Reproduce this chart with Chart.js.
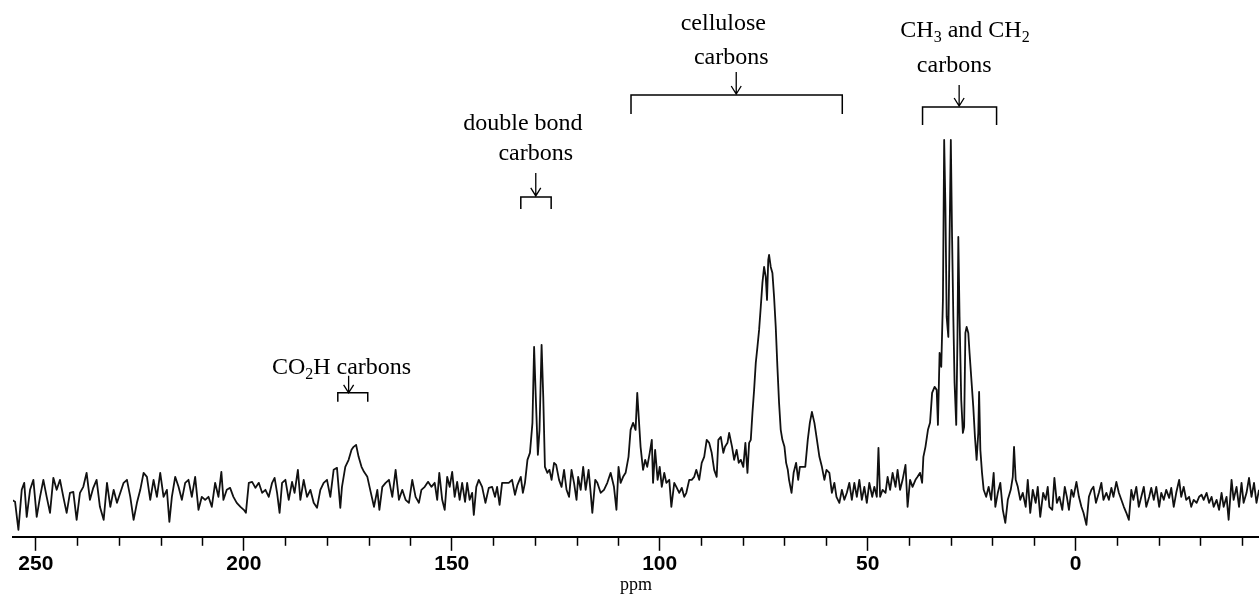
<!DOCTYPE html>
<html>
<head>
<meta charset="utf-8">
<script src="https://cdn.jsdelivr.net/npm/chart.js@4.4.1/dist/chart.umd.min.js"></script>
<style>
  html, body { margin: 0; padding: 0; background: #fff; }
</style>
</head>
<body>
<canvas id="nmr" width="1259" height="594"></canvas>
<script>
const shiftPpm = [
  255.8, 255.0, 254.2, 253.4, 252.8, 252.2, 251.4, 250.6, 249.8, 249.0, 248.2, 247.4, 246.6, 245.8, 245.0,
  244.2, 243.4, 242.6, 241.8, 241.0, 240.2, 239.4, 238.6, 237.8, 237.0, 236.2, 235.4, 234.6, 233.7, 232.9,
  232.1, 231.3, 230.5, 229.7, 228.9, 228.1, 227.3, 226.5, 225.7, 224.9, 224.1, 223.3, 222.5, 221.7, 220.9,
  220.1, 219.3, 218.5, 217.9, 217.3, 216.5, 215.7, 214.9, 214.1, 213.3, 212.5, 211.7, 210.9, 210.1, 209.3,
  208.5, 207.7, 206.9, 206.1, 205.4, 204.9, 204.1, 203.3, 202.5, 201.7, 200.8, 200.0, 199.5, 198.8, 198.0,
  197.2, 196.4, 195.6, 194.8, 194.0, 193.2, 192.6, 192.0, 191.4, 190.8, 190.0, 189.2, 188.4, 187.8, 187.0,
  186.4, 185.6, 184.8, 184.0, 183.2, 182.4, 181.6, 180.8, 180.0, 179.2, 178.4, 177.6, 176.8, 176.4, 175.6,
  174.8, 174.1, 173.6, 173.0, 172.4, 171.7, 171.1, 170.3, 169.5, 168.7, 167.9, 167.4, 166.7, 165.9, 165.1,
  164.3, 163.5, 162.7, 161.9, 161.1, 160.3, 159.5, 158.7,
  157.9, 157.3, 156.5, 155.7, 154.9, 154.1, 153.5, 153.0, 152.3, 151.7, 151.1, 150.5, 149.9, 149.3, 148.7,
  148.1, 147.5, 146.8, 146.3, 145.7, 145.1, 144.7, 144.1, 143.5, 142.7, 141.9, 141.1, 140.3, 139.6, 139.1,
  138.5, 137.9, 137.1, 136.3, 135.5, 134.8, 134.2, 133.4, 132.9, 132.4, 131.8, 131.2, 130.6, 130.2, 129.8,
  129.3, 128.9, 128.4, 128.0, 127.6, 127.0, 126.5, 126.0, 125.4, 124.9, 124.2, 123.6, 123.0, 122.4, 121.8,
  121.2, 120.6, 120.0, 119.6, 119.0, 118.4, 117.8, 117.1, 116.6, 116.2, 115.5, 115.0, 114.2, 113.4, 112.6,
  111.8, 111.0, 110.4, 109.9, 109.4, 108.8, 108.2, 107.5, 107.0, 106.4, 105.8, 105.4, 104.9,
  104.6, 104.0, 103.5, 103.0, 102.4, 101.9, 101.6, 101.1, 100.5, 100.0, 99.5, 98.9, 98.4, 97.7, 97.2,
  96.5, 96.0, 95.3, 94.7, 94.1, 93.6, 92.9, 92.3, 91.7, 91.2, 90.5, 89.9, 89.3, 88.7, 88.1,
  87.5, 86.9, 86.3, 85.9, 85.3, 84.7, 84.3, 83.7, 83.3, 82.6, 82.1, 81.5, 81.0, 80.5, 79.9,
  79.4, 78.9, 78.5, 78.1, 77.7, 77.3, 76.9, 76.5, 76.1, 75.7, 75.3, 74.9, 74.5, 74.2, 73.9,
  73.7, 73.3, 72.9, 72.5, 72.1, 71.7, 71.3, 70.9, 70.5, 70.0, 69.6, 69.2, 68.9, 68.3, 67.8,
  67.2, 66.7, 66.3, 65.6, 65.0, 64.4, 63.9, 63.4, 62.8, 62.3, 61.6, 61.0, 60.4, 59.9, 59.2,
  58.6, 58.0, 57.5, 56.8, 56.2, 55.6, 55.0,
  54.4, 53.8, 53.2, 52.6, 52.0, 51.4, 50.8, 50.2, 49.6, 48.9, 48.4, 47.8, 47.4, 47.0, 46.4,
  45.7, 45.2, 44.6, 44.0, 43.3, 42.8, 42.2, 41.6, 40.9, 40.4, 39.8, 39.2, 38.5, 38.0, 37.4,
  36.9, 36.6, 36.1, 35.5, 35.0, 34.5, 33.9, 33.4, 33.1, 32.7, 32.3, 31.9, 31.6, 31.3, 31.0,
  30.6, 30.3, 30.0, 29.7, 29.4, 29.1, 28.7, 28.4, 28.2, 27.9, 27.5, 27.1, 26.8, 26.5, 26.2,
  25.8, 25.5, 25.0, 24.6, 24.2, 23.8, 23.4, 23.2, 22.9, 22.5, 22.1, 21.5, 20.9, 20.3, 19.7,
  19.3, 18.7, 18.1, 17.5, 16.9, 16.3, 15.6, 15.1, 14.8, 14.4, 13.9, 13.3, 12.7, 12.0, 11.5,
  10.9, 10.3, 9.6, 9.1, 8.5, 7.8, 7.2, 6.7,
  6.3, 5.6, 5.1, 4.5, 3.9, 3.2, 2.6, 2.1, 1.6, 1.0, 0.5, -0.2, -0.8, -1.4, -1.9,
  -2.6, -3.2, -3.8, -4.3, -4.9, -5.6, -6.2, -6.7, -7.4, -8.0, -8.6, -9.1, -9.8, -10.4, -11.0,
  -11.6, -12.2, -12.8, -13.4, -13.9, -14.6, -15.2, -15.8, -16.4, -17.0, -17.7, -18.2, -18.8, -19.4, -20.1,
  -20.6, -21.2, -21.8, -22.5, -23.0, -23.6, -24.2, -24.9, -25.4, -26.0, -26.6, -27.3, -27.8, -28.4, -29.1,
  -29.7, -30.3, -30.8, -31.5, -32.1, -32.7, -33.2, -33.9, -34.5, -35.1, -35.6, -36.3, -36.8, -37.5, -38.0,
  -38.7, -39.3, -39.9, -40.4, -41.1, -41.7, -42.3, -42.9, -43.5, -44.1
];

// signal height (arbitrary units), same order as shiftPpm
const intensity = [
  37, 35, 7, 47, 54, 20, 47, 57, 20, 40, 57, 40, 24, 59, 47,
  57, 40, 24, 44, 45, 17, 44, 50, 64, 37, 49, 57, 30, 17, 54,
  30, 47, 34, 44, 54, 57, 40, 17, 34, 47, 64, 60, 37, 57, 40,
  64, 40, 47, 15, 40, 60, 50, 37, 54, 57, 40, 60, 27, 40, 37,
  40, 30, 54, 40, 65, 37, 47, 49, 40, 34, 30, 27, 24, 54, 55,
  49, 54, 44, 47, 40, 54, 59, 44, 24, 54, 57, 37, 55, 44, 67,
  37, 57, 40, 47, 34, 29, 47, 54, 57, 40, 67, 69, 29, 50, 70,
  77, 87, 90, 92, 80, 70, 65, 60, 45, 30, 47, 27, 50, 54, 57,
  40, 67, 37, 47, 37, 34, 57, 40,
  34, 47, 50, 55, 50, 54, 37, 64, 37, 27, 60, 50, 65, 40, 55,
  37, 54, 35, 54, 37, 44, 22, 50, 57, 50, 34, 49, 50, 40, 50,
  32, 54, 54, 54, 57, 42, 52, 60, 44, 54, 77, 84, 114, 190, 140,
  82, 107, 192, 140, 70, 64, 67, 57, 74, 72, 57, 50, 67, 47, 40,
  67, 54, 37, 60, 47, 70, 47, 67, 44, 24, 57, 54, 44, 47, 54,
  64, 50, 27, 70, 54, 60, 64, 80, 107, 114, 107, 144, 110,
  90, 67, 77, 70, 84, 97, 54, 87, 57, 70, 50, 64, 54, 57, 30,
  54, 50, 44, 49, 40, 44, 57, 57, 60, 67, 57, 74, 80, 97, 94,
  84, 67, 60, 97, 100, 84, 90, 94, 104, 90, 77, 87, 74, 77, 70,
  94, 64, 94, 97, 124, 147, 174, 190, 207, 230, 254, 270, 260, 237, 277,
  282, 270, 264, 240, 210, 170, 134, 107, 97, 90, 74, 67, 57, 44, 64,
  74, 57, 70, 70, 70, 97, 114, 125, 114, 100, 80, 70, 57, 67, 64,
  44, 54, 40, 34, 47, 37, 44,
  54, 37, 54, 40, 57, 37, 50, 34, 54, 40, 50, 40, 89, 40, 47,
  44, 60, 47, 64, 50, 67, 47, 57, 72, 30, 57, 50, 57, 60, 64,
  54, 80, 90, 107, 114, 144, 150, 147, 112, 184, 170, 237, 397, 330, 220,
  200, 300, 397, 300, 220, 154, 112, 200, 300, 220, 137, 104, 110, 204, 210,
  204, 184, 154, 130, 100, 77, 104, 145, 87, 64, 47, 40, 50, 37, 64,
  30, 44, 54, 27, 14, 37, 47, 60, 90, 57, 50, 37, 44, 30, 57,
  24, 47, 34, 50, 20, 44, 37, 50,
  30, 27, 59, 34, 40, 27, 50, 40, 27, 47, 40, 55, 40, 30, 24,
  12, 40, 47, 50, 34, 44, 54, 37, 44, 37, 49, 40, 55, 44, 37,
  30, 24, 17, 47, 37, 50, 30, 40, 50, 30, 40, 49, 37, 50, 30,
  44, 37, 47, 39, 49, 30, 44, 57, 40, 50, 37, 40, 30, 37, 34,
  40, 42, 37, 44, 34, 40, 30, 37, 27, 44, 30, 40, 17, 57, 37,
  50, 30, 54, 34, 44, 59, 40, 54, 34, 47
];

// axis ticks: minor every 10 ppm, numbers on these
const labelledTicks = [250, 200, 150, 100, 50, 0];

// peak group labels; parts with sub:true are subscripts
const notes = [
  {
    lines: [{ at: 176.5, base: 163, parts: [{ t: 'CO' }, { t: '2', sub: true }, { t: 'H carbons' }] }],
    arrowAt: 174.8, arrow: [161, 144], span: [177.4, 170.2], bracket: [144, 135]
  },
  {
    lines: [
      { at: 132.9, base: 407, parts: [{ t: 'double bond' }] },
      { at: 129.8, base: 377, parts: [{ t: 'carbons' }] }
    ],
    arrowAt: 129.8, arrow: [364, 341], span: [133.4, 126.1], bracket: [340, 328]
  },
  {
    lines: [
      { at: 84.7, base: 507, parts: [{ t: 'cellulose' }] },
      { at: 82.8, base: 473, parts: [{ t: 'carbons' }] }
    ],
    arrowAt: 81.6, arrow: [465, 443], span: [106.9, 56.1], bracket: [442, 423]
  },
  {
    lines: [
      { at: 26.6, base: 500, parts: [{ t: 'CH' }, { t: '3', sub: true }, { t: ' and CH' }, { t: '2', sub: true }] },
      { at: 29.2, base: 465, parts: [{ t: 'carbons' }] }
    ],
    arrowAt: 28.0, arrow: [452, 431], span: [36.8, 19.0], bracket: [430, 412]
  }
];

const points = shiftPpm.map((p, i) => ({ x: p, y: intensity[i] }));

const TEXT_FONT = '24px "Liberation Serif", "Times New Roman", serif';
const SUB_FONT = '16px "Liberation Serif", "Times New Roman", serif';

function drawRich(ctx, parts, cx, baseY) {
  let total = 0;
  parts.forEach(p => {
    ctx.font = p.sub ? SUB_FONT : TEXT_FONT;
    p.w = ctx.measureText(p.t).width;
    total += p.w;
  });
  let x = cx - total / 2;
  ctx.textAlign = 'left';
  ctx.textBaseline = 'alphabetic';
  parts.forEach(p => {
    ctx.font = p.sub ? SUB_FONT : TEXT_FONT;
    ctx.fillText(p.t, x, p.sub ? baseY + 5 : baseY);
    x += p.w;
  });
}

const annotate = {
  id: 'annotate',
  afterDraw(chart) {
    const { ctx } = chart;
    const xs = chart.scales.x, ys = chart.scales.y;
    ctx.save();
    ctx.strokeStyle = '#000';
    ctx.fillStyle = '#000';

    // minor tick marks (major ones come from the axis itself)
    ctx.lineWidth = 1.5;
    xs.ticks.forEach(t => {
      if (t.value % 50 === 0) return;
      const px = Math.round(xs.getPixelForValue(t.value)) + 0.5;
      ctx.beginPath();
      ctx.moveTo(px, xs.top);
      ctx.lineTo(px, xs.top + 9);
      ctx.stroke();
    });

    notes.forEach(n => {
      n.lines.forEach(l => drawRich(ctx, l.parts, xs.getPixelForValue(l.at), ys.getPixelForValue(l.base)));

      // arrow
      ctx.lineWidth = 1.3;
      const ax = xs.getPixelForValue(n.arrowAt);
      const a0 = ys.getPixelForValue(n.arrow[0]);
      const a1 = ys.getPixelForValue(n.arrow[1]);
      ctx.beginPath();
      ctx.moveTo(ax, a0);
      ctx.lineTo(ax, a1);
      ctx.moveTo(ax - 5, a1 - 8);
      ctx.lineTo(ax, a1);
      ctx.lineTo(ax + 5, a1 - 8);
      ctx.stroke();

      // bracket
      ctx.lineWidth = 1.5;
      const bl = xs.getPixelForValue(n.span[0]);
      const br = xs.getPixelForValue(n.span[1]);
      const bt = ys.getPixelForValue(n.bracket[0]);
      const bb = ys.getPixelForValue(n.bracket[1]);
      ctx.beginPath();
      ctx.moveTo(bl, bb);
      ctx.lineTo(bl, bt);
      ctx.lineTo(br, bt);
      ctx.lineTo(br, bb);
      ctx.stroke();
    });
    ctx.restore();
  }
};

new Chart(document.getElementById('nmr'), {
  type: 'line',
  data: {
    datasets: [{
      data: points,
      borderColor: '#111',
      borderWidth: 1.8,
      pointRadius: 0,
      tension: 0,
      fill: false,
      borderJoinStyle: 'round'
    }]
  },
  options: {
    responsive: false,
    animation: false,
    devicePixelRatio: 1,
    layout: { padding: { top: 100, left: 13, right: 0, bottom: 0 } },
    plugins: { legend: { display: false }, tooltip: { enabled: false } },
    scales: {
      x: {
        type: 'linear',
        reverse: true,
        min: -44.1,
        max: 255.5,
        border: { display: true, color: '#000', width: 2 },
        grid: {
          drawOnChartArea: false,
          drawTicks: true,
          tickLength: 14,
          tickWidth: 1.5,
          tickColor: c => (c.tick && c.tick.value % 50 === 0) ? '#000' : 'rgba(0,0,0,0)'
        },
        ticks: {
          stepSize: 10,
          includeBounds: false,
          autoSkip: false,
          maxRotation: 0,
          padding: 5,
          color: '#000',
          font: { family: '"Liberation Sans", Arial, sans-serif', size: 21, weight: 'bold', lineHeight: 0.8 },
          callback: v => labelledTicks.includes(v) ? String(v) : ''
        },
        title: {
          display: true,
          text: 'ppm',
          color: '#000',
          padding: { top: 0, bottom: 2 },
          font: { family: '"Liberation Serif", serif', size: 18, lineHeight: 0.8 }
        }
      },
      y: {
        display: false,
        min: 0,
        max: 437
      }
    }
  },
  plugins: [annotate]
});
</script>
</body>
</html>
